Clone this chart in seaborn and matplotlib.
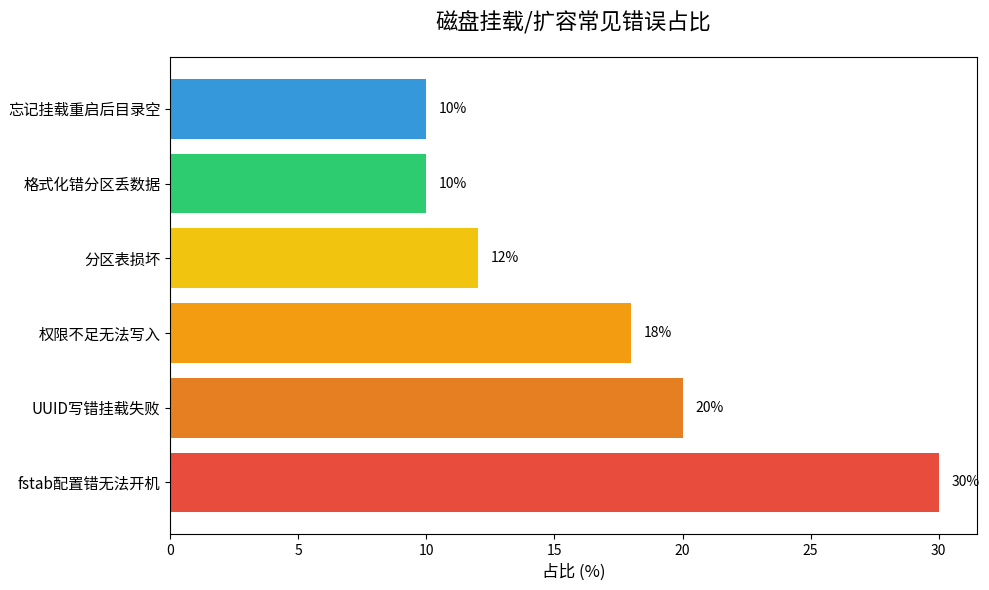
import matplotlib
matplotlib.use("Agg")
import matplotlib.pyplot as plt
import seaborn as sns
import pandas as pd

plt.rcParams['font.family'] = ['Noto Sans CJK SC', 'DejaVu Sans']

# 错误类型（从上到下）
errors = ["忘记挂载重启后目录空", "格式化错分区丢数据", "分区表损坏",
          "权限不足无法写入", "UUID写错挂载失败", "fstab配置错无法开机"]
shares = [10, 10, 12, 18, 20, 30]
colors = ["#3498db", "#2ecc71", "#f1c40f", "#f39c12", "#e67e22", "#e74c3c"]

df = pd.DataFrame({"错误": errors, "占比": shares})

fig, ax = plt.subplots(figsize=(9.89, 5.9), dpi=100)
sns.barplot(data=df, x="占比", y="错误", hue="错误", palette=colors,
            order=errors, hue_order=errors, orient="h", width=0.8,
            saturation=1, legend=False, ax=ax)

for i, v in enumerate(shares):
    ax.text(v + 0.5, i, f"{v}%", va="center", ha="left", fontsize=10)

ax.set_xlim(0, max(shares) * 1.05)
ax.set_ylim(len(errors) - 1 + 0.69, -0.69)
ax.set_title("磁盘挂载/扩容常见错误占比", fontsize=16, pad=20)
ax.set_xlabel("占比 (%)", fontsize=12)
ax.set_ylabel("")
ax.tick_params(axis="y", labelsize=11)
ax.tick_params(axis="x", labelsize=10)

plt.subplots_adjust(left=0.172, right=0.988, top=0.903, bottom=0.095)
plt.savefig("out.png", dpi=100)
